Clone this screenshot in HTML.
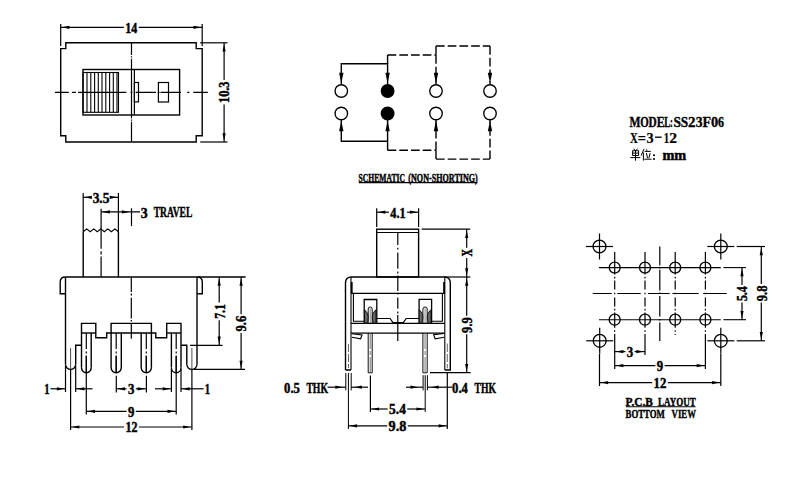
<!DOCTYPE html>
<html><head><meta charset="utf-8"><style>
html,body{margin:0;padding:0;background:#fff;width:800px;height:480px;overflow:hidden}
svg{display:block}
</style></head><body>
<svg width="800" height="480" viewBox="0 0 800 480" stroke="#000" fill="#000">
<path d="M65.8,42.8 H196.2 V48.6 H202.2 V135.8 H196.2 V142 H65.8 V135.8 H60.7 V48.6 H65.8 Z" stroke-width="1.4" fill="none"/>
<line x1="60.7" y1="24" x2="60.7" y2="46" stroke-width="1.2"/>
<line x1="202.2" y1="24" x2="202.2" y2="46" stroke-width="1.2"/>
<line x1="60.7" y1="27.3" x2="123.9" y2="27.3" stroke-width="1.2"/>
<line x1="138.7" y1="27.3" x2="202.2" y2="27.3" stroke-width="1.2"/>
<polygon points="61.9,27.3 69.4,25.7 69.4,28.9" stroke="none" fill="#000"/>
<polygon points="201,27.3 193.5,25.7 193.5,28.9" stroke="none" fill="#000"/>
<text x="131.3" y="32.69" font-size="14" font-family="&quot;Liberation Serif&quot;, serif" font-weight="bold" text-anchor="middle" textLength="12" lengthAdjust="spacingAndGlyphs" stroke="#000" stroke-width="0.45">14</text>
<line x1="200.2" y1="42.8" x2="227.5" y2="42.8" stroke-width="1.2"/>
<line x1="200.2" y1="142" x2="227.5" y2="142" stroke-width="1.2"/>
<line x1="224.1" y1="42.8" x2="224.1" y2="80.1" stroke-width="1.2"/>
<line x1="224.1" y1="104.4" x2="224.1" y2="142" stroke-width="1.2"/>
<polygon points="224.1,44 222.5,51.5 225.7,51.5" stroke="none" fill="#000"/>
<polygon points="224.1,140.8 222.5,133.3 225.7,133.3" stroke="none" fill="#000"/>
<text x="229.49" y="92.25" font-size="14" font-family="&quot;Liberation Serif&quot;, serif" font-weight="bold" text-anchor="middle" textLength="21.5" lengthAdjust="spacingAndGlyphs" transform="rotate(-90 229.49 92.25)" stroke="#000" stroke-width="0.45">10.3</text>
<path d="M55,92.3 H68.8 M71.9,92.3 H76 M78.1,92.3 H126.4 M130.6,92.3 H132.4 M135.6,92.3 H156 M157.8,92.3 H159.6 M160.5,92.3 H181 M187.2,92.3 H189.4 M193.3,92.3 H207.8" stroke-width="1.2" fill="none"/>
<path d="M131.5,42.8 V55 M131.5,56.3 V57.6 M131.5,58.8 V69.5 M131.5,115 V118.3 M131.5,119.4 V120.8 M131.5,121.8 V142" stroke-width="1.2" fill="none"/>
<rect x="83" y="69.5" width="96.6" height="45.5" stroke-width="1.4" fill="none"/>
<rect x="83" y="72.5" width="35.5" height="39.8" stroke-width="1.1" fill="none"/>
<line x1="87" y1="72.5" x2="87" y2="112.3" stroke-width="1.1"/>
<line x1="90.8" y1="72.5" x2="90.8" y2="112.3" stroke-width="1.1"/>
<line x1="94.6" y1="72.5" x2="94.6" y2="112.3" stroke-width="1.1"/>
<line x1="98.3" y1="72.5" x2="98.3" y2="112.3" stroke-width="1.1"/>
<line x1="102" y1="72.5" x2="102" y2="112.3" stroke-width="1.1"/>
<line x1="105.8" y1="72.5" x2="105.8" y2="112.3" stroke-width="1.1"/>
<line x1="109.6" y1="72.5" x2="109.6" y2="112.3" stroke-width="1.1"/>
<line x1="113.3" y1="72.5" x2="113.3" y2="112.3" stroke-width="1.1"/>
<line x1="117" y1="72.5" x2="117" y2="112.3" stroke-width="1.1"/>
<line x1="131.5" y1="69.5" x2="131.5" y2="115" stroke-width="1.2"/>
<line x1="134.4" y1="69.5" x2="134.4" y2="115" stroke-width="1.2"/>
<rect x="134.4" y="82.5" width="4.1" height="19.4" stroke-width="1.2" fill="none"/>
<rect x="158.4" y="82.5" width="10.1" height="19.5" stroke-width="1.2" fill="none"/>
<circle cx="341.3" cy="91" r="6.25" stroke-width="1.35" fill="none"/>
<circle cx="341.3" cy="113.5" r="6.25" stroke-width="1.35" fill="none"/>
<circle cx="387.6" cy="91" r="6.25" stroke-width="1.35" fill="#000"/>
<circle cx="387.6" cy="113.5" r="6.25" stroke-width="1.35" fill="#000"/>
<circle cx="436" cy="91" r="6.25" stroke-width="1.35" fill="none"/>
<circle cx="436" cy="113.5" r="6.25" stroke-width="1.35" fill="none"/>
<circle cx="490" cy="91" r="6.25" stroke-width="1.35" fill="none"/>
<circle cx="490" cy="113.5" r="6.25" stroke-width="1.35" fill="none"/>
<path d="M341.3,84 V63.8 H387.6 V84" stroke-width="1.4" fill="none"/>
<path d="M341.3,120 V141.3 H387.6 V120" stroke-width="1.4" fill="none"/>
<path d="M387.6,55 V63.8" stroke-width="1.4" fill="none" stroke-dasharray="8.7 3"/>
<path d="M387.6,55 H436" stroke-width="1.4" fill="none" stroke-dasharray="8.7 3"/>
<path d="M436,55 V84" stroke-width="1.4" fill="none" stroke-dasharray="8.7 3"/>
<path d="M436,46 V55" stroke-width="1.4" fill="none" stroke-dasharray="8.7 3"/>
<path d="M436,46 H490" stroke-width="1.4" fill="none" stroke-dasharray="8.7 3"/>
<path d="M490,46 V84" stroke-width="1.4" fill="none" stroke-dasharray="8.7 3"/>
<path d="M387.6,150.3 V141.3" stroke-width="1.4" fill="none" stroke-dasharray="8.7 3"/>
<path d="M387.6,150.3 H436" stroke-width="1.4" fill="none" stroke-dasharray="8.7 3"/>
<path d="M436,150.3 V120" stroke-width="1.4" fill="none" stroke-dasharray="8.7 3"/>
<path d="M436,159.1 V150.3" stroke-width="1.4" fill="none" stroke-dasharray="8.7 3"/>
<path d="M436,159.1 H490" stroke-width="1.4" fill="none" stroke-dasharray="8.7 3"/>
<path d="M490,159.1 V120" stroke-width="1.4" fill="none" stroke-dasharray="8.7 3"/>
<polygon points="341.3,83.2 339.1,72.7 343.5,72.7" stroke="none" fill="#000"/>
<polygon points="341.3,120.7 339.1,131.2 343.5,131.2" stroke="none" fill="#000"/>
<polygon points="387.6,83.2 385.4,72.7 389.8,72.7" stroke="none" fill="#000"/>
<polygon points="387.6,120.7 385.4,131.2 389.8,131.2" stroke="none" fill="#000"/>
<polygon points="436,83.2 433.8,72.7 438.2,72.7" stroke="none" fill="#000"/>
<polygon points="436,120.7 433.8,131.2 438.2,131.2" stroke="none" fill="#000"/>
<polygon points="490,83.2 487.8,72.7 492.2,72.7" stroke="none" fill="#000"/>
<polygon points="490,120.7 487.8,131.2 492.2,131.2" stroke="none" fill="#000"/>
<text x="358.6" y="181.5" font-size="11.5" font-family="&quot;Liberation Serif&quot;, serif" font-weight="bold" text-anchor="start" textLength="46.4" lengthAdjust="spacingAndGlyphs" stroke="#000" stroke-width="0.45">SCHEMATIC</text>
<text x="408.3" y="181.5" font-size="11.5" font-family="&quot;Liberation Serif&quot;, serif" font-weight="bold" text-anchor="start" textLength="69.5" lengthAdjust="spacingAndGlyphs" stroke="#000" stroke-width="0.45">(NON-SHORTING)</text>
<line x1="358.8" y1="182.6" x2="477.4" y2="182.6" stroke-width="1.1"/>
<text x="629.6" y="126.5" font-size="14.5" font-family="&quot;Liberation Serif&quot;, serif" font-weight="bold" text-anchor="start" textLength="11" lengthAdjust="spacingAndGlyphs" stroke="#000" stroke-width="0.35">M</text>
<text x="640.2" y="126.5" font-size="14.5" font-family="&quot;Liberation Serif&quot;, serif" font-weight="bold" text-anchor="start" textLength="8.5" lengthAdjust="spacingAndGlyphs" stroke="#000" stroke-width="0.35">O</text>
<text x="648.6" y="126.5" font-size="14.5" font-family="&quot;Liberation Serif&quot;, serif" font-weight="bold" text-anchor="start" textLength="8.2" lengthAdjust="spacingAndGlyphs" stroke="#000" stroke-width="0.35">D</text>
<text x="656.7" y="126.5" font-size="14.5" font-family="&quot;Liberation Serif&quot;, serif" font-weight="bold" text-anchor="start" textLength="7.9" lengthAdjust="spacingAndGlyphs" stroke="#000" stroke-width="0.35">E</text>
<text x="664.2" y="126.5" font-size="14.5" font-family="&quot;Liberation Serif&quot;, serif" font-weight="bold" text-anchor="start" textLength="6.1" lengthAdjust="spacingAndGlyphs" stroke="#000" stroke-width="0.35">L</text>
<text x="670" y="126.5" font-size="14.5" font-family="&quot;Liberation Serif&quot;, serif" font-weight="bold" text-anchor="start" textLength="2.8" lengthAdjust="spacingAndGlyphs" stroke="#000" stroke-width="0.35">:</text>
<text x="673.4" y="126.5" font-size="14.5" font-family="&quot;Liberation Serif&quot;, serif" font-weight="bold" text-anchor="start" textLength="7.5" lengthAdjust="spacingAndGlyphs" stroke="#000" stroke-width="0.35">S</text>
<text x="680.8" y="126.5" font-size="14.5" font-family="&quot;Liberation Serif&quot;, serif" font-weight="bold" text-anchor="start" textLength="7.4" lengthAdjust="spacingAndGlyphs" stroke="#000" stroke-width="0.35">S</text>
<text x="688.1" y="126.5" font-size="14.5" font-family="&quot;Liberation Serif&quot;, serif" font-weight="bold" text-anchor="start" textLength="7.5" lengthAdjust="spacingAndGlyphs" stroke="#000" stroke-width="0.35">2</text>
<text x="695.8" y="126.5" font-size="14.5" font-family="&quot;Liberation Serif&quot;, serif" font-weight="bold" text-anchor="start" textLength="6.8" lengthAdjust="spacingAndGlyphs" stroke="#000" stroke-width="0.35">3</text>
<text x="702.5" y="126.5" font-size="14.5" font-family="&quot;Liberation Serif&quot;, serif" font-weight="bold" text-anchor="start" textLength="8.5" lengthAdjust="spacingAndGlyphs" stroke="#000" stroke-width="0.35">F</text>
<text x="710.9" y="126.5" font-size="14.5" font-family="&quot;Liberation Serif&quot;, serif" font-weight="bold" text-anchor="start" textLength="7.1" lengthAdjust="spacingAndGlyphs" stroke="#000" stroke-width="0.35">0</text>
<text x="717.9" y="126.5" font-size="14.5" font-family="&quot;Liberation Serif&quot;, serif" font-weight="bold" text-anchor="start" textLength="6" lengthAdjust="spacingAndGlyphs" stroke="#000" stroke-width="0.35">6</text>
<text x="630.1" y="142.7" font-size="14.5" font-family="&quot;Liberation Serif&quot;, serif" font-weight="bold" text-anchor="start" textLength="7.8" lengthAdjust="spacingAndGlyphs" stroke="#000" stroke-width="0.2">X</text>
<text x="637.8" y="142.7" font-size="14.5" font-family="&quot;Liberation Serif&quot;, serif" font-weight="bold" text-anchor="start" textLength="8.2" lengthAdjust="spacingAndGlyphs" stroke="#000" stroke-width="0.2">=</text>
<text x="646.6" y="142.7" font-size="14.5" font-family="&quot;Liberation Serif&quot;, serif" font-weight="bold" text-anchor="start" textLength="7.1" lengthAdjust="spacingAndGlyphs" stroke="#000" stroke-width="0.2">3</text>
<text x="663.7" y="142.7" font-size="14.5" font-family="&quot;Liberation Serif&quot;, serif" font-weight="bold" text-anchor="start" textLength="5.4" lengthAdjust="spacingAndGlyphs" stroke="#000" stroke-width="0.2">1</text>
<text x="669.3" y="142.7" font-size="14.5" font-family="&quot;Liberation Serif&quot;, serif" font-weight="bold" text-anchor="start" textLength="7.8" lengthAdjust="spacingAndGlyphs" stroke="#000" stroke-width="0.2">2</text>
<line x1="655" y1="137.2" x2="661.7" y2="137.2" stroke-width="1.3"/>
<text x="662.4" y="160.4" font-size="14" font-family="&quot;Liberation Serif&quot;, serif" font-weight="bold" text-anchor="start" textLength="23.8" lengthAdjust="spacingAndGlyphs" stroke="#000" stroke-width="0.45">mm</text>
<path d="M633.6,148.7 L635,150.4 M637.4,148.7 L636.2,150.4" stroke-width="1.0" fill="none"/>
<path d="M632.6,150.7 H638.6 V155.5 H632.6 Z M632.6,153.1 H638.6" stroke-width="1.0" fill="none"/>
<path d="M630.3,157.6 H640.3 M635.5,150.7 V160.7" stroke-width="1.0" fill="none"/>
<path d="M644,148.9 L641.2,155.5 M643.4,152.5 V160.6" stroke-width="1.0" fill="none"/>
<path d="M646.4,149.3 L647,150.8 M644.6,151.4 H650.8 M646.4,153 L647.6,158.2 M650.2,153 L648.8,158.2 M644.4,159.2 H651.6" stroke-width="1.0" fill="none"/>
<circle cx="654" cy="155.3" r="1.05" stroke-width="0" fill="#000"/>
<circle cx="654" cy="159" r="1.05" stroke-width="0" fill="#000"/>
<line x1="83.2" y1="193" x2="83.2" y2="231.7" stroke-width="1.2"/>
<line x1="118.4" y1="193" x2="118.4" y2="231.7" stroke-width="1.2"/>
<line x1="83.2" y1="197.3" x2="91.25" y2="197.3" stroke-width="1.2"/>
<line x1="110.75" y1="197.3" x2="118.4" y2="197.3" stroke-width="1.2"/>
<polygon points="84.4,197.3 91.9,195.7 91.9,198.9" stroke="none" fill="#000"/>
<polygon points="117.2,197.3 109.7,195.7 109.7,198.9" stroke="none" fill="#000"/>
<text x="101" y="202.69" font-size="14" font-family="&quot;Liberation Serif&quot;, serif" font-weight="bold" text-anchor="middle" textLength="16.7" lengthAdjust="spacingAndGlyphs" stroke="#000" stroke-width="0.45">3.5</text>
<path d="M101.1,208.8 V248.7 M101.1,251.3 V254.4 M101.1,256.5 V277" stroke-width="1.2" fill="none"/>
<line x1="101.1" y1="211.9" x2="140" y2="211.9" stroke-width="1.2"/>
<polygon points="102.3,211.9 109.8,210.3 109.8,213.5" stroke="none" fill="#000"/>
<polygon points="129.3,211.9 121.8,210.3 121.8,213.5" stroke="none" fill="#000"/>
<line x1="131.5" y1="208.3" x2="131.5" y2="226" stroke-width="1.2"/>
<text x="140.7" y="217.5" font-size="14" font-family="&quot;Liberation Serif&quot;, serif" font-weight="bold" text-anchor="start" textLength="6.9" lengthAdjust="spacingAndGlyphs" stroke="#000" stroke-width="0.45">3</text>
<text x="153.7" y="217.4" font-size="15" font-family="&quot;Liberation Serif&quot;, serif" font-weight="bold" text-anchor="start" textLength="38.6" lengthAdjust="spacingAndGlyphs" stroke="#000" stroke-width="0.45">TRAVEL</text>
<path d="M83.2,231.7 L86.72,228.9 L90.24,231.7 L93.76,228.9 L97.28,231.7 L100.8,228.9 L104.32,231.7 L107.84,228.9 L111.36,231.7 L114.88,228.9 L118.4,231.7" stroke-width="1.2" fill="none"/>
<line x1="83.2" y1="231.7" x2="83.2" y2="277" stroke-width="1.4"/>
<line x1="118.4" y1="231.7" x2="118.4" y2="277" stroke-width="1.4"/>
<path d="M65.6,293.7 H60.2 V282 Q60.2,277 65.4,277" stroke-width="1.4" fill="none"/>
<path d="M197,293.7 H202.3 V282 Q202.3,277 197.2,277" stroke-width="1.4" fill="none"/>
<line x1="65.4" y1="277" x2="245.6" y2="277" stroke-width="1.4"/>
<line x1="65.5" y1="277" x2="65.5" y2="364.3" stroke-width="1.4"/>
<line x1="197" y1="277" x2="197" y2="364.3" stroke-width="1.4"/>
<path d="M131.3,277 V291.9 M131.3,293.6 V295.6 M131.3,297.8 V318.4 M131.3,320 V321.6 M131.3,323.5 V338.8" stroke-width="1.2" fill="none"/>
<path d="M81.5,367.7 V323.4 H95.8 V337.7 H106.7 V333 H111.1 V323.4 H151.4 V333 H155.8 V337.7 H166.7 V323.4 H181 V367.7" stroke-width="1.4" fill="none"/>
<line x1="81.5" y1="333" x2="95.8" y2="333" stroke-width="1.4"/>
<line x1="111.1" y1="333" x2="151.4" y2="333" stroke-width="1.4"/>
<line x1="166.7" y1="333" x2="181" y2="333" stroke-width="1.4"/>
<line x1="111.1" y1="333" x2="111.1" y2="367.7" stroke-width="1.4"/>
<line x1="151.4" y1="333" x2="151.4" y2="367.7" stroke-width="1.4"/>
<line x1="91.2" y1="333" x2="91.2" y2="367.7" stroke-width="1.4"/>
<line x1="171.4" y1="333" x2="171.4" y2="367.7" stroke-width="1.4"/>
<line x1="121.3" y1="333" x2="121.3" y2="367.7" stroke-width="1.4"/>
<line x1="141.2" y1="333" x2="141.2" y2="367.7" stroke-width="1.4"/>
<path d="M81.5,345.3 H75.7 V364.3" stroke-width="1.4" fill="none"/>
<path d="M181,345.3 H186.8 V364.3" stroke-width="1.4" fill="none"/>
<path d="M65.5,364.3 A5.1,5.1 0 0 0 75.7,364.3" stroke-width="1.4" fill="none"/>
<path d="M186.8,364.3 A5.1,5.1 0 0 0 197,364.3" stroke-width="1.4" fill="none"/>
<path d="M81.5,367.85 A4.85,4.85 0 0 0 91.2,367.85" stroke-width="1.4" fill="none"/>
<path d="M111.1,367.6 A5.1,5.1 0 0 0 121.3,367.6" stroke-width="1.4" fill="none"/>
<path d="M141.2,367.6 A5.1,5.1 0 0 0 151.4,367.6" stroke-width="1.4" fill="none"/>
<path d="M171.4,367.9 A4.8,4.8 0 0 0 181,367.9" stroke-width="1.4" fill="none"/>
<line x1="86.3" y1="333" x2="86.3" y2="372.7" stroke-width="1.2" stroke-dasharray="16 2.5 2 2.5" stroke-dashoffset="0"/>
<line x1="86.3" y1="355.5" x2="86.3" y2="372.7" stroke-width="1.2"/>
<line x1="116.2" y1="333" x2="116.2" y2="372.7" stroke-width="1.2" stroke-dasharray="16 2.5 2 2.5" stroke-dashoffset="0"/>
<line x1="116.2" y1="355.5" x2="116.2" y2="372.7" stroke-width="1.2"/>
<line x1="146.3" y1="333" x2="146.3" y2="372.7" stroke-width="1.2" stroke-dasharray="16 2.5 2 2.5" stroke-dashoffset="0"/>
<line x1="146.3" y1="355.5" x2="146.3" y2="372.7" stroke-width="1.2"/>
<line x1="176.2" y1="333" x2="176.2" y2="372.7" stroke-width="1.2" stroke-dasharray="16 2.5 2 2.5" stroke-dashoffset="0"/>
<line x1="176.2" y1="355.5" x2="176.2" y2="372.7" stroke-width="1.2"/>
<line x1="70.6" y1="348" x2="70.6" y2="369.4" stroke-width="0.7"/>
<line x1="191.9" y1="348" x2="191.9" y2="369.4" stroke-width="0.7"/>
<line x1="65.5" y1="366" x2="65.5" y2="392" stroke-width="1.2"/>
<line x1="75.7" y1="366" x2="75.7" y2="392" stroke-width="1.2"/>
<line x1="50.5" y1="388.8" x2="65.5" y2="388.8" stroke-width="1.2"/>
<polygon points="64.3,388.8 56.8,387.2 56.8,390.4" stroke="none" fill="#000"/>
<line x1="75.7" y1="388.8" x2="92.5" y2="388.8" stroke-width="1.2"/>
<polygon points="76.9,388.8 84.4,387.2 84.4,390.4" stroke="none" fill="#000"/>
<text x="47" y="394.29" font-size="14" font-family="&quot;Liberation Serif&quot;, serif" font-weight="bold" text-anchor="middle" textLength="5.3" lengthAdjust="spacingAndGlyphs" stroke="#000" stroke-width="0.45">1</text>
<line x1="171.4" y1="369" x2="171.4" y2="392" stroke-width="1.2"/>
<line x1="181" y1="369" x2="181" y2="392" stroke-width="1.2"/>
<line x1="155" y1="388.8" x2="171.4" y2="388.8" stroke-width="1.2"/>
<polygon points="170.2,388.8 162.7,387.2 162.7,390.4" stroke="none" fill="#000"/>
<line x1="181" y1="388.8" x2="203.7" y2="388.8" stroke-width="1.2"/>
<polygon points="182.2,388.8 189.7,387.2 189.7,390.4" stroke="none" fill="#000"/>
<text x="207.5" y="394.29" font-size="14" font-family="&quot;Liberation Serif&quot;, serif" font-weight="bold" text-anchor="middle" textLength="5.3" lengthAdjust="spacingAndGlyphs" stroke="#000" stroke-width="0.45">1</text>
<line x1="116.3" y1="375.8" x2="116.3" y2="392.5" stroke-width="1.2"/>
<line x1="146.4" y1="375.8" x2="146.4" y2="392.5" stroke-width="1.2"/>
<line x1="116.3" y1="388.8" x2="126.6" y2="388.8" stroke-width="1.2"/>
<line x1="135.8" y1="388.8" x2="146.4" y2="388.8" stroke-width="1.2"/>
<polygon points="117.5,388.8 125,387.2 125,390.4" stroke="none" fill="#000"/>
<polygon points="145.2,388.8 137.7,387.2 137.7,390.4" stroke="none" fill="#000"/>
<text x="131.2" y="394.19" font-size="14" font-family="&quot;Liberation Serif&quot;, serif" font-weight="bold" text-anchor="middle" textLength="6.4" lengthAdjust="spacingAndGlyphs" stroke="#000" stroke-width="0.45">3</text>
<line x1="86.3" y1="372.7" x2="86.3" y2="414.5" stroke-width="1.2"/>
<line x1="176.2" y1="372.7" x2="176.2" y2="414.5" stroke-width="1.2"/>
<line x1="86.3" y1="411.3" x2="126.6" y2="411.3" stroke-width="1.2"/>
<line x1="135.8" y1="411.3" x2="176.2" y2="411.3" stroke-width="1.2"/>
<polygon points="87.5,411.3 95,409.7 95,412.9" stroke="none" fill="#000"/>
<polygon points="175,411.3 167.5,409.7 167.5,412.9" stroke="none" fill="#000"/>
<text x="131.2" y="416.69" font-size="14" font-family="&quot;Liberation Serif&quot;, serif" font-weight="bold" text-anchor="middle" textLength="6.4" lengthAdjust="spacingAndGlyphs" stroke="#000" stroke-width="0.45">9</text>
<line x1="70.6" y1="369.4" x2="70.6" y2="430" stroke-width="1.2"/>
<line x1="191.9" y1="369.4" x2="191.9" y2="430" stroke-width="1.2"/>
<line x1="70.6" y1="427" x2="124.1" y2="427" stroke-width="1.2"/>
<line x1="138.9" y1="427" x2="191.9" y2="427" stroke-width="1.2"/>
<polygon points="71.8,427 79.3,425.4 79.3,428.6" stroke="none" fill="#000"/>
<polygon points="190.7,427 183.2,425.4 183.2,428.6" stroke="none" fill="#000"/>
<text x="131.5" y="432.39" font-size="14" font-family="&quot;Liberation Serif&quot;, serif" font-weight="bold" text-anchor="middle" textLength="12" lengthAdjust="spacingAndGlyphs" stroke="#000" stroke-width="0.45">12</text>
<line x1="190" y1="345.3" x2="222.5" y2="345.3" stroke-width="1.2"/>
<line x1="194" y1="369.4" x2="245" y2="369.4" stroke-width="1.2"/>
<line x1="219.2" y1="277" x2="219.2" y2="302.6" stroke-width="1.2"/>
<line x1="219.2" y1="320.2" x2="219.2" y2="345.3" stroke-width="1.2"/>
<polygon points="219.2,278.2 217.6,285.7 220.8,285.7" stroke="none" fill="#000"/>
<polygon points="219.2,344.1 217.6,336.6 220.8,336.6" stroke="none" fill="#000"/>
<text x="224.59" y="311.4" font-size="14" font-family="&quot;Liberation Serif&quot;, serif" font-weight="bold" text-anchor="middle" textLength="14.8" lengthAdjust="spacingAndGlyphs" transform="rotate(-90 224.59 311.4)" stroke="#000" stroke-width="0.45">7.1</text>
<line x1="241.1" y1="277" x2="241.1" y2="314.3" stroke-width="1.2"/>
<line x1="241.1" y1="332.9" x2="241.1" y2="369.4" stroke-width="1.2"/>
<polygon points="241.1,278.2 239.5,285.7 242.7,285.7" stroke="none" fill="#000"/>
<polygon points="241.1,368.2 239.5,360.7 242.7,360.7" stroke="none" fill="#000"/>
<text x="246.49" y="323.6" font-size="14" font-family="&quot;Liberation Serif&quot;, serif" font-weight="bold" text-anchor="middle" textLength="15.8" lengthAdjust="spacingAndGlyphs" transform="rotate(-90 246.49 323.6)" stroke="#000" stroke-width="0.45">9.6</text>
<line x1="376.7" y1="208.3" x2="376.7" y2="227" stroke-width="1.2"/>
<line x1="418.6" y1="208.3" x2="418.6" y2="227" stroke-width="1.2"/>
<line x1="376.7" y1="212.2" x2="388.95" y2="212.2" stroke-width="1.2"/>
<line x1="407.05" y1="212.2" x2="418.6" y2="212.2" stroke-width="1.2"/>
<polygon points="377.9,212.2 385.4,210.6 385.4,213.8" stroke="none" fill="#000"/>
<polygon points="417.4,212.2 409.9,210.6 409.9,213.8" stroke="none" fill="#000"/>
<text x="398" y="217.59" font-size="14" font-family="&quot;Liberation Serif&quot;, serif" font-weight="bold" text-anchor="middle" textLength="15.3" lengthAdjust="spacingAndGlyphs" stroke="#000" stroke-width="0.45">4.1</text>
<rect x="376.7" y="229.2" width="41.9" height="47.8" stroke-width="1.4" fill="none"/>
<line x1="376.7" y1="232.5" x2="418.6" y2="232.5" stroke-width="1.1"/>
<path d="M397.8,232.5 V245 M397.8,247.8 V249.6 M397.8,252.5 V268.8 M397.8,271.6 V273.4 M397.8,275.5 V291 M397.8,292.8 V294.6 M397.8,297.5 V308.8 M397.8,311.6 V313.4 M397.8,315 V341" stroke-width="1.2" fill="none"/>
<line x1="421.7" y1="229.2" x2="470.3" y2="229.2" stroke-width="1.2"/>
<line x1="444" y1="277" x2="470.3" y2="277" stroke-width="1.2"/>
<line x1="466.7" y1="229.2" x2="466.7" y2="247.7" stroke-width="1.2"/>
<line x1="466.7" y1="257.9" x2="466.7" y2="277" stroke-width="1.2"/>
<polygon points="466.7,230.4 465.1,237.9 468.3,237.9" stroke="none" fill="#000"/>
<polygon points="466.7,275.8 465.1,268.3 468.3,268.3" stroke="none" fill="#000"/>
<text x="472.09" y="252.8" font-size="14" font-family="&quot;Liberation Serif&quot;, serif" font-weight="bold" text-anchor="middle" textLength="7.4" lengthAdjust="spacingAndGlyphs" transform="rotate(-90 472.09 252.8)" stroke="#000" stroke-width="0.45">X</text>
<line x1="430" y1="372.6" x2="470.6" y2="372.6" stroke-width="1.2"/>
<line x1="466.7" y1="277" x2="466.7" y2="315.7" stroke-width="1.2"/>
<line x1="466.7" y1="334.3" x2="466.7" y2="372.6" stroke-width="1.2"/>
<polygon points="466.7,278.2 465.1,285.7 468.3,285.7" stroke="none" fill="#000"/>
<polygon points="466.7,371.4 465.1,363.9 468.3,363.9" stroke="none" fill="#000"/>
<text x="472.09" y="325" font-size="14" font-family="&quot;Liberation Serif&quot;, serif" font-weight="bold" text-anchor="middle" textLength="15.8" lengthAdjust="spacingAndGlyphs" transform="rotate(-90 472.09 325)" stroke="#000" stroke-width="0.45">9.9</text>
<path d="M345.5,370 V283 Q345.5,277 351.5,277 H444.3 Q450.3,277 450.3,283 V370 H444.8 M351,370 H345.5" stroke-width="1.4" fill="none"/>
<line x1="351" y1="277" x2="351" y2="370" stroke-width="1.1"/>
<line x1="444.8" y1="277" x2="444.8" y2="370" stroke-width="1.1"/>
<line x1="351.7" y1="282" x2="351.7" y2="293" stroke-width="1.9"/>
<line x1="444.1" y1="282" x2="444.1" y2="293" stroke-width="1.9"/>
<line x1="351" y1="293.3" x2="444.8" y2="293.3" stroke-width="1.3"/>
<path d="M353.4,293.3 V321.3 H364.2" stroke-width="1.1" fill="none"/>
<path d="M442.4,293.3 V321.2 H431.6" stroke-width="1.1" fill="none"/>
<line x1="350.8" y1="323.4" x2="444.6" y2="323.4" stroke-width="1.4"/>
<line x1="350.8" y1="333.1" x2="444.6" y2="333.1" stroke-width="1.4"/>
<path d="M364.2,323.4 V299.5 H376.8 V323.4" stroke-width="1.3" fill="none"/>
<path d="M419.1,323.4 V299.4 H431.6 V323.4" stroke-width="1.3" fill="none"/>
<path d="M368.2,323 V309 Q368.2,307 370.2,307 Q372.2,307 372.2,309 V323" stroke-width="0.95" fill="none"/>
<line x1="370.2" y1="308.5" x2="370.2" y2="323" stroke-width="0.5"/>
<line x1="368.2" y1="333.1" x2="368.2" y2="372.8" stroke-width="0.95"/>
<line x1="372.2" y1="333.1" x2="372.2" y2="372.8" stroke-width="0.95"/>
<path d="M370.2,334 V349 M370.2,351 V355 M370.2,357 V372" stroke-width="0.55" fill="none"/>
<line x1="368.2" y1="372.8" x2="372.2" y2="372.8" stroke-width="0.95"/>
<path d="M364.4,309.6 Q368.5,313 368.2,317 Q367.9,320.5 367,323.2 L364.6,323.2 Z" stroke-width="0.8" fill="#666"/>
<path d="M376,309.6 Q371.9,313 372.2,317 Q372.5,320.5 373.4,323.2 L375.8,323.2 Z" stroke-width="0.8" fill="#666"/>
<path d="M422.9,323 V309 Q422.9,307 425.05,307 Q427.2,307 427.2,309 V323" stroke-width="0.95" fill="none"/>
<line x1="425.05" y1="308.5" x2="425.05" y2="323" stroke-width="0.5"/>
<line x1="422.9" y1="333.1" x2="422.9" y2="372.8" stroke-width="0.95"/>
<line x1="427.2" y1="333.1" x2="427.2" y2="372.8" stroke-width="0.95"/>
<path d="M425.05,334 V349 M425.05,351 V355 M425.05,357 V372" stroke-width="0.55" fill="none"/>
<line x1="422.9" y1="372.8" x2="427.2" y2="372.8" stroke-width="0.95"/>
<path d="M419.1,309.6 Q423.2,313 422.9,317 Q422.6,320.5 421.7,323.2 L419.3,323.2 Z" stroke-width="0.8" fill="#666"/>
<path d="M431,309.6 Q426.9,313 427.2,317 Q427.5,320.5 428.4,323.2 L430.8,323.2 Z" stroke-width="0.8" fill="#666"/>
<path d="M376.8,318.5 H390.1 L393,322.7 H403.3 L406.2,318.5 H419.1" stroke-width="1.2" fill="none"/>
<path d="M352,333.7 L362,334.9 L360.6,338.8 L352,337.2" stroke-width="1.1" fill="none"/>
<path d="M444,333.5 L433.6,334.6 L435.2,338.8 L444,337.2" stroke-width="1.1" fill="none"/>
<path d="M348.5,344 V352 M348.5,354 V362 M348.5,364 V368" stroke-width="0.6" fill="none"/>
<path d="M447.3,343.6 V352 M447.3,354 V362 M447.3,364 V368.4" stroke-width="0.6" fill="none"/>
<line x1="345.8" y1="373" x2="345.8" y2="390.4" stroke-width="1.0"/>
<line x1="351.2" y1="373" x2="351.2" y2="390.4" stroke-width="1.0"/>
<line x1="327.6" y1="387.2" x2="345.8" y2="387.2" stroke-width="1.2"/>
<polygon points="342.8,387.2 335.3,385.6 335.3,388.8" stroke="none" fill="#000"/>
<line x1="351.2" y1="387.2" x2="368" y2="387.2" stroke-width="1.2"/>
<polygon points="354.4,387.2 361.9,385.6 361.9,388.8" stroke="none" fill="#000"/>
<text x="284.1" y="392.5" font-size="14" font-family="&quot;Liberation Serif&quot;, serif" font-weight="bold" text-anchor="start" textLength="15.8" lengthAdjust="spacingAndGlyphs" stroke="#000" stroke-width="0.45">0.5</text>
<text x="306.4" y="392.5" font-size="14" font-family="&quot;Liberation Serif&quot;, serif" font-weight="bold" text-anchor="start" textLength="21.6" lengthAdjust="spacingAndGlyphs" stroke="#000" stroke-width="0.45">THK</text>
<line x1="423.1" y1="375.2" x2="423.1" y2="390.3" stroke-width="1.0"/>
<line x1="427.4" y1="375.2" x2="427.4" y2="390.3" stroke-width="1.0"/>
<line x1="406" y1="387.2" x2="423.1" y2="387.2" stroke-width="1.2"/>
<polygon points="418,387.2 410.5,385.6 410.5,388.8" stroke="none" fill="#000"/>
<line x1="427.4" y1="387.2" x2="452" y2="387.2" stroke-width="1.2"/>
<polygon points="431.2,387.2 438.7,385.6 438.7,388.8" stroke="none" fill="#000"/>
<text x="452.1" y="392.5" font-size="14" font-family="&quot;Liberation Serif&quot;, serif" font-weight="bold" text-anchor="start" textLength="15.8" lengthAdjust="spacingAndGlyphs" stroke="#000" stroke-width="0.45">0.4</text>
<text x="474.6" y="392.5" font-size="14" font-family="&quot;Liberation Serif&quot;, serif" font-weight="bold" text-anchor="start" textLength="21.4" lengthAdjust="spacingAndGlyphs" stroke="#000" stroke-width="0.45">THK</text>
<line x1="370.4" y1="375.4" x2="370.4" y2="412" stroke-width="1.2"/>
<line x1="425.2" y1="375.2" x2="425.2" y2="412" stroke-width="1.0"/>
<line x1="370.4" y1="409" x2="387.7" y2="409" stroke-width="1.2"/>
<line x1="407.3" y1="409" x2="425.2" y2="409" stroke-width="1.2"/>
<polygon points="371.6,409 379.1,407.4 379.1,410.6" stroke="none" fill="#000"/>
<polygon points="424,409 416.5,407.4 416.5,410.6" stroke="none" fill="#000"/>
<text x="397.5" y="414.39" font-size="14" font-family="&quot;Liberation Serif&quot;, serif" font-weight="bold" text-anchor="middle" textLength="16.8" lengthAdjust="spacingAndGlyphs" stroke="#000" stroke-width="0.45">5.4</text>
<line x1="348.4" y1="373" x2="348.4" y2="429" stroke-width="1.0"/>
<line x1="447.3" y1="373" x2="447.3" y2="429" stroke-width="1.2"/>
<line x1="348.4" y1="425.8" x2="387.2" y2="425.8" stroke-width="1.2"/>
<line x1="407.8" y1="425.8" x2="447.3" y2="425.8" stroke-width="1.2"/>
<polygon points="349.6,425.8 357.1,424.2 357.1,427.4" stroke="none" fill="#000"/>
<polygon points="446.1,425.8 438.6,424.2 438.6,427.4" stroke="none" fill="#000"/>
<text x="397.5" y="431.19" font-size="14" font-family="&quot;Liberation Serif&quot;, serif" font-weight="bold" text-anchor="middle" textLength="17.8" lengthAdjust="spacingAndGlyphs" stroke="#000" stroke-width="0.45">9.8</text>
<circle cx="599.5" cy="246.5" r="6.45" stroke-width="1.3" fill="none"/>
<line x1="586" y1="246.5" x2="613" y2="246.5" stroke-width="1.2"/>
<line x1="599.5" y1="233.5" x2="599.5" y2="259.5" stroke-width="1.2"/>
<circle cx="720.8" cy="246.5" r="6.45" stroke-width="1.3" fill="none"/>
<line x1="707.3" y1="246.5" x2="734.3" y2="246.5" stroke-width="1.2"/>
<line x1="720.8" y1="233.5" x2="720.8" y2="259.5" stroke-width="1.2"/>
<circle cx="599.7" cy="340.8" r="6.45" stroke-width="1.3" fill="none"/>
<line x1="586.2" y1="340.8" x2="613.2" y2="340.8" stroke-width="1.2"/>
<line x1="599.7" y1="327.8" x2="599.7" y2="353.8" stroke-width="1.2"/>
<circle cx="720.8" cy="340.8" r="6.45" stroke-width="1.3" fill="none"/>
<line x1="707.3" y1="340.8" x2="734.3" y2="340.8" stroke-width="1.2"/>
<line x1="720.8" y1="327.8" x2="720.8" y2="353.8" stroke-width="1.2"/>
<circle cx="614.7" cy="267.6" r="5.5" stroke-width="1.3" fill="none"/>
<circle cx="645" cy="267.6" r="5.5" stroke-width="1.3" fill="none"/>
<circle cx="675.2" cy="267.6" r="5.5" stroke-width="1.3" fill="none"/>
<circle cx="705.4" cy="267.6" r="5.5" stroke-width="1.3" fill="none"/>
<circle cx="614.7" cy="319.7" r="5.5" stroke-width="1.3" fill="none"/>
<circle cx="645" cy="319.7" r="5.5" stroke-width="1.3" fill="none"/>
<circle cx="675.2" cy="319.7" r="5.5" stroke-width="1.3" fill="none"/>
<circle cx="705.4" cy="319.7" r="5.5" stroke-width="1.3" fill="none"/>
<line x1="599" y1="267.6" x2="720.8" y2="267.6" stroke-width="1.1"/>
<line x1="723.5" y1="267.6" x2="746" y2="267.6" stroke-width="1.1"/>
<line x1="599" y1="319.7" x2="720.8" y2="319.7" stroke-width="1.1"/>
<line x1="723.5" y1="319.7" x2="746" y2="319.7" stroke-width="1.1"/>
<path d="M592.7,293.5 H611.7 M617.2,293.5 H640.7 M648,293.5 H669.7 M672.4,293.5 H698.7 M703.2,293.5 H726.8" stroke-width="1.2" fill="none"/>
<path d="M659.8,246.6 V265.6 M659.8,267 V268.4 M659.8,269.8 V290.5 M659.8,292.5 V294 M659.8,296 V316.6 M659.8,319 V320.5 M659.8,322.6 V341" stroke-width="1.2" fill="none"/>
<path d="M614.7,252 V274.4 M614.7,276.8 V278.4 M614.7,280.5 V289.5 M614.7,292.7 V294.3 M614.7,297.5 V306.5 M614.7,308.8 V310.4 M614.7,312.6 V327.8 M614.7,330.2 V331.8 M614.7,334 V335" stroke-width="1.2" fill="none"/>
<path d="M645,252 V274.4 M645,276.8 V278.4 M645,280.5 V289.5 M645,292.7 V294.3 M645,297.5 V306.5 M645,308.8 V310.4 M645,312.6 V327.8 M645,330.2 V331.8 M645,334 V335" stroke-width="1.2" fill="none"/>
<path d="M675.2,252 V274.4 M675.2,276.8 V278.4 M675.2,280.5 V289.5 M675.2,292.7 V294.3 M675.2,297.5 V306.5 M675.2,308.8 V310.4 M675.2,312.6 V327.8 M675.2,330.2 V331.8 M675.2,334 V335" stroke-width="1.2" fill="none"/>
<path d="M705.4,252 V274.4 M705.4,276.8 V278.4 M705.4,280.5 V289.5 M705.4,292.7 V294.3 M705.4,297.5 V306.5 M705.4,308.8 V310.4 M705.4,312.6 V327.8 M705.4,330.2 V331.8 M705.4,334 V335" stroke-width="1.2" fill="none"/>
<line x1="614.7" y1="335" x2="614.7" y2="369" stroke-width="1.2"/>
<line x1="645" y1="335" x2="645" y2="355" stroke-width="1.2"/>
<line x1="705.4" y1="335" x2="705.4" y2="369" stroke-width="1.2"/>
<line x1="599.5" y1="354" x2="599.5" y2="386" stroke-width="1.2"/>
<line x1="720.8" y1="354" x2="720.8" y2="386" stroke-width="1.2"/>
<line x1="614.7" y1="351.6" x2="625.4" y2="351.6" stroke-width="1.2"/>
<line x1="634.6" y1="351.6" x2="645" y2="351.6" stroke-width="1.2"/>
<polygon points="615.9,351.6 623.4,350 623.4,353.2" stroke="none" fill="#000"/>
<polygon points="643.8,351.6 636.3,350 636.3,353.2" stroke="none" fill="#000"/>
<text x="630" y="356.99" font-size="14" font-family="&quot;Liberation Serif&quot;, serif" font-weight="bold" text-anchor="middle" textLength="6.4" lengthAdjust="spacingAndGlyphs" stroke="#000" stroke-width="0.45">3</text>
<line x1="614.7" y1="365.6" x2="655.4" y2="365.6" stroke-width="1.2"/>
<line x1="664.6" y1="365.6" x2="705.4" y2="365.6" stroke-width="1.2"/>
<polygon points="615.9,365.6 623.4,364 623.4,367.2" stroke="none" fill="#000"/>
<polygon points="704.2,365.6 696.7,364 696.7,367.2" stroke="none" fill="#000"/>
<text x="660" y="370.99" font-size="14" font-family="&quot;Liberation Serif&quot;, serif" font-weight="bold" text-anchor="middle" textLength="6.4" lengthAdjust="spacingAndGlyphs" stroke="#000" stroke-width="0.45">9</text>
<line x1="599.5" y1="382.6" x2="652.2" y2="382.6" stroke-width="1.2"/>
<line x1="667.8" y1="382.6" x2="720.8" y2="382.6" stroke-width="1.2"/>
<polygon points="600.7,382.6 608.2,381 608.2,384.2" stroke="none" fill="#000"/>
<polygon points="719.6,382.6 712.1,381 712.1,384.2" stroke="none" fill="#000"/>
<text x="660" y="387.99" font-size="14" font-family="&quot;Liberation Serif&quot;, serif" font-weight="bold" text-anchor="middle" textLength="12.8" lengthAdjust="spacingAndGlyphs" stroke="#000" stroke-width="0.45">12</text>
<line x1="742" y1="267.6" x2="742" y2="284.9" stroke-width="1.2"/>
<line x1="742" y1="302.5" x2="742" y2="319.7" stroke-width="1.2"/>
<polygon points="742,268.8 740.4,276.3 743.6,276.3" stroke="none" fill="#000"/>
<polygon points="742,318.5 740.4,311 743.6,311" stroke="none" fill="#000"/>
<text x="747.39" y="293.7" font-size="14" font-family="&quot;Liberation Serif&quot;, serif" font-weight="bold" text-anchor="middle" textLength="14.8" lengthAdjust="spacingAndGlyphs" transform="rotate(-90 747.39 293.7)" stroke="#000" stroke-width="0.45">5.4</text>
<line x1="736.7" y1="246.5" x2="765" y2="246.5" stroke-width="1.2"/>
<line x1="736.7" y1="340.8" x2="765" y2="340.8" stroke-width="1.2"/>
<line x1="761.3" y1="246.5" x2="761.3" y2="284" stroke-width="1.2"/>
<line x1="761.3" y1="302.6" x2="761.3" y2="340.8" stroke-width="1.2"/>
<polygon points="761.3,247.7 759.7,255.2 762.9,255.2" stroke="none" fill="#000"/>
<polygon points="761.3,339.6 759.7,332.1 762.9,332.1" stroke="none" fill="#000"/>
<text x="766.69" y="293.3" font-size="14" font-family="&quot;Liberation Serif&quot;, serif" font-weight="bold" text-anchor="middle" textLength="15.8" lengthAdjust="spacingAndGlyphs" transform="rotate(-90 766.69 293.3)" stroke="#000" stroke-width="0.45">9.8</text>
<text x="625.6" y="405.5" font-size="13" font-family="&quot;Liberation Serif&quot;, serif" font-weight="bold" text-anchor="start" textLength="27.3" lengthAdjust="spacingAndGlyphs" stroke="#000" stroke-width="0.45">P.C.B</text>
<text x="658.1" y="405.5" font-size="13" font-family="&quot;Liberation Serif&quot;, serif" font-weight="bold" text-anchor="start" textLength="37.8" lengthAdjust="spacingAndGlyphs" stroke="#000" stroke-width="0.45">LAYOUT</text>
<line x1="626" y1="406.8" x2="695.5" y2="406.8" stroke-width="1.1"/>
<text x="625.6" y="417.5" font-size="13" font-family="&quot;Liberation Serif&quot;, serif" font-weight="bold" text-anchor="start" textLength="39.3" lengthAdjust="spacingAndGlyphs" stroke="#000" stroke-width="0.45">BOTTOM</text>
<text x="671.6" y="417.5" font-size="13" font-family="&quot;Liberation Serif&quot;, serif" font-weight="bold" text-anchor="start" textLength="24.3" lengthAdjust="spacingAndGlyphs" stroke="#000" stroke-width="0.45">VIEW</text>
</svg>
</body></html>
